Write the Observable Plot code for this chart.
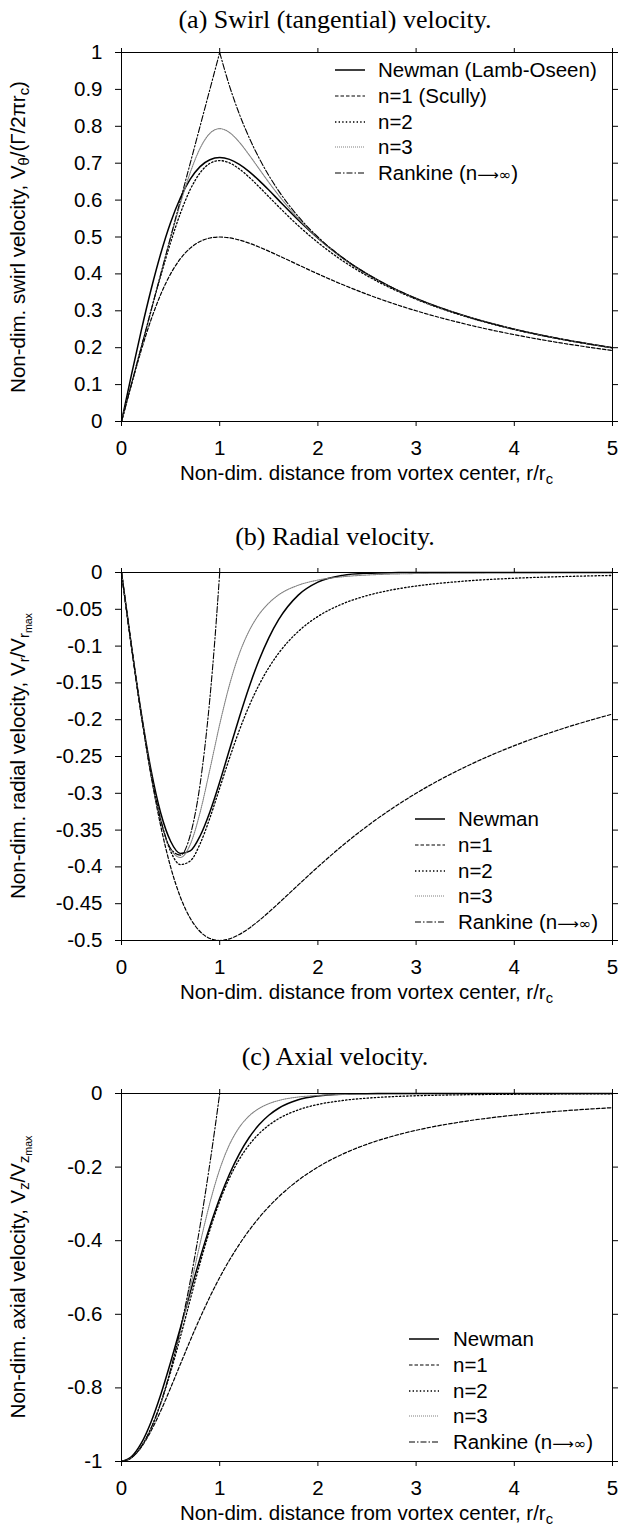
<!DOCTYPE html>
<html>
<head>
<meta charset="utf-8">
<script src="https://cdn.jsdelivr.net/npm/d3@7"></script>
<script src="https://cdn.jsdelivr.net/npm/@observablehq/plot@0.6"></script>
<style>
  html, body { margin: 0; padding: 0; background: #fff; }
  #root { position: relative; width: 618px; height: 1533px; overflow: hidden;
          font-family: "Liberation Sans", Arial, sans-serif; color: #000; }
  .ptitle { position: absolute; font-family: "Liberation Serif", "Times New Roman", serif;
            font-size: 26px; white-space: nowrap; transform: translate(-50%, -50%); }
  .xlab { position: absolute; font-size: 20.5px; white-space: nowrap; transform: translate(-50%, -50%); }
  .ylab { position: absolute; font-size: 20.5px; white-space: nowrap;
          transform: translate(-50%, -50%) rotate(-90deg); }
  sub { font-size: 72%; vertical-align: -0.28em; line-height: 0; }
  .panel { position: absolute; left: 0; }
  .leg { position: absolute; font-size: 20.5px; white-space: nowrap; }
  .sym { font-family: "DejaVu Sans", sans-serif; font-size: 15px; }
</style>
</head>
<body>
<div id="root"></div>
<script>
// ---------------- data ----------------
const r = [0,0.1,0.2,0.3,0.4,0.5,0.6,0.7,0.8,0.9,1,1.1,1.2,1.3,1.4,1.5,1.6,1.8,2,2.25,2.5,2.75,3,3.5,4,4.5,5];
const xTicks = [0,1,2,3,4,5];

// (a) swirl velocity
const swirlNewman = [0,0.1249,0.2451,0.3564,0.4553,0.5392,0.6064,0.6567,0.6907,0.7095,0.7153,0.7103,0.6968,0.6772,0.6534,0.6272,0.5999,0.5461,0.4967,0.4437,0.3998,0.3636,0.3333,0.2857,0.2500,0.2222,0.2000];
const swirlN1 = [0,0.0990,0.1923,0.2752,0.3448,0.4000,0.4412,0.4698,0.4878,0.4972,0.5000,0.4977,0.4918,0.4833,0.4730,0.4615,0.4494,0.4245,0.4000,0.3711,0.3448,0.3212,0.3000,0.2642,0.2353,0.2118,0.1923];
const swirlN2 = [0,0.1000,0.1998,0.2988,0.3950,0.4851,0.5645,0.6286,0.6738,0.6994,0.7071,0.7007,0.6845,0.6620,0.6363,0.6092,0.5822,0.5308,0.4851,0.4360,0.3950,0.3605,0.3313,0.2848,0.2495,0.2220,0.1998];
const swirlN3 = [0,0.1000,0.2000,0.2999,0.3995,0.4974,0.5910,0.6745,0.7403,0.7808,0.7937,0.7831,0.7568,0.7224,0.6852,0.6482,0.6131,0.5502,0.4974,0.4433,0.3995,0.3633,0.3329,0.2856,0.2500,0.2222,0.2000];
const rankineSwirlInR = [0,1];
const rankineSwirlIn = [0,1];
const rankineSwirlOutR = [1,1.1,1.2,1.3,1.4,1.5,1.6,1.8,2,2.25,2.5,2.75,3,3.5,4,4.5,5];
const rankineSwirlOut = [1,0.9091,0.8333,0.7692,0.7143,0.6667,0.6250,0.5556,0.5000,0.4444,0.4000,0.3636,0.3333,0.2857,0.2500,0.2222,0.2000];
const swirlTicks = [0,0.1,0.2,0.3,0.4,0.5,0.6,0.7,0.8,0.9,1];

// (b) radial velocity
const radialNewman = [0,-0.0988,-0.1902,-0.2679,-0.3272,-0.3652,-0.3817,-0.3782,-0.3580,-0.3253,-0.2847,-0.2405,-0.1966,-0.1555,-0.1193,-0.0888,-0.0641,-0.0307,-0.0131,-0.0039,-0.0010,-0.0002,0,0,0,0,0];
const radialN1 = [0,-0.0990,-0.1923,-0.2752,-0.3448,-0.4000,-0.4412,-0.4698,-0.4878,-0.4972,-0.5000,-0.4977,-0.4918,-0.4833,-0.4730,-0.4615,-0.4494,-0.4245,-0.4000,-0.3711,-0.3448,-0.3212,-0.3000,-0.2642,-0.2353,-0.2118,-0.1923];
const radialN2 = [0,-0.0990,-0.1920,-0.2731,-0.3368,-0.3787,-0.3968,-0.3920,-0.3688,-0.3335,-0.2929,-0.2521,-0.2144,-0.1812,-0.1529,-0.1293,-0.1097,-0.0801,-0.0597,-0.0427,-0.0314,-0.0237,-0.0184,-0.0116,-0.0078,-0.0055,-0.0040];
const radialN3 = [0,-0.0990,-0.1920,-0.2730,-0.3361,-0.3756,-0.3872,-0.3695,-0.3262,-0.2676,-0.2063,-0.1525,-0.1102,-0.0792,-0.0570,-0.0416,-0.0304,-0.0173,-0.0103,-0.0058,-0.0034,-0.0021,-0.0014,-0.0006,-0.0003,0,0];
const rankineCoreR = [0,0.1,0.2,0.3,0.4,0.5,0.6,0.7,0.8,0.9,0.95,1];
const radialRankine = [0,-0.099,-0.192,-0.273,-0.336,-0.375,-0.384,-0.357,-0.288,-0.171,-0.0926,0];
const rankineOuterR = [1,5];
const radialRankineOuter = [0,0];
const radialTicks = [-0.5,-0.45,-0.4,-0.35,-0.3,-0.25,-0.2,-0.15,-0.1,-0.05,0];

// (c) axial velocity
const axialNewman = [-1,-0.9875,-0.9510,-0.8931,-0.8179,-0.7304,-0.6362,-0.5403,-0.4475,-0.3614,-0.2847,-0.2187,-0.1638,-0.1196,-0.0852,-0.0592,-0.0401,-0.0171,-0.0066,-0.0017,-0.0004,-0.0001,0,0,0,0,0];
const axialN1 = [-1,-0.9901,-0.9615,-0.9174,-0.8621,-0.8000,-0.7353,-0.6711,-0.6098,-0.5525,-0.5000,-0.4525,-0.4098,-0.3717,-0.3378,-0.3077,-0.2809,-0.2358,-0.2000,-0.1649,-0.1379,-0.1168,-0.1000,-0.0755,-0.0588,-0.0471,-0.0385];
const axialN2 = [-1,-0.9900,-0.9600,-0.9104,-0.8420,-0.7575,-0.6613,-0.5600,-0.4609,-0.3706,-0.2929,-0.2292,-0.1786,-0.1394,-0.1092,-0.0862,-0.0685,-0.0445,-0.0299,-0.0190,-0.0126,-0.0086,-0.0061,-0.0033,-0.0020,-0.0012,-0.0008];
const axialN3 = [-1,-0.9900,-0.9600,-0.9100,-0.8402,-0.7513,-0.6454,-0.5278,-0.4078,-0.2973,-0.2063,-0.1386,-0.0918,-0.0609,-0.0407,-0.0277,-0.0190,-0.0096,-0.0052,-0.0026,-0.0014,-0.0008,-0.0005,-0.0002,-0.0001,0,0];
const axialRankine = [-1,-0.99,-0.96,-0.91,-0.84,-0.75,-0.64,-0.51,-0.36,-0.19,-0.0975,0];
const axialRankineOuter = [0,0];
const axialTicks = [-1,-0.8,-0.6,-0.4,-0.2,0];

// legend labels
const legendA = ["Newman (Lamb-Oseen)", "n=1 (Scully)", "n=2", "n=3", "Rankine (n⟶∞)"];
const legendBC = ["Newman", "n=1", "n=2", "n=3", "Rankine (n⟶∞)"];

// ---------------- styles ----------------
const STY = [
  {stroke: "#000", strokeWidth: 1.5},
  {stroke: "#000", strokeWidth: 1.2, strokeDasharray: "3.5,2"},
  {stroke: "#000", strokeWidth: 1.3, strokeDasharray: "1.4,2.2"},
  {stroke: "#808080", strokeWidth: 1.1, strokeDasharray: "1,1"},
  {stroke: "#000", strokeWidth: 1.1, strokeDasharray: "6,2,1.5,2"}
];

const root = document.getElementById("root");
const W = 618, ML = 121, MR = 6, MT = 10, MB = 70;

function pts(xs, ys) { return xs.map((x, i) => ({x, y: ys[i]})); }

function makePanel(cfg) {
  const {top, ph, yDomain, yTicks, curves, title, titleY, ylab, legend, leg} = cfg;
  const marks = [];
  for (const c of curves) {
    marks.push(Plot.line(pts(c.x, c.y), {x: "x", y: "y", curve: c.curve || "monotone-x", ...STY[c.s]}));
  }
  marks.push(Plot.frame({stroke: "#000", strokeWidth: 1}));
  marks.push(Plot.axisX({anchor: "bottom", ticks: xTicks, tickSize: 5, tickPadding: 14, tickFormat: d => String(d), label: null, fontSize: 20.5}));
  marks.push(Plot.axisX({anchor: "top", ticks: xTicks, tickSize: 5, tickFormat: () => "", label: null}));
  marks.push(Plot.axisY({anchor: "left", ticks: yTicks, tickSize: 6, tickPadding: 13, tickFormat: d => String(d), label: null, fontSize: 20.5}));
  marks.push(Plot.axisY({anchor: "right", ticks: yTicks, tickSize: 6, tickFormat: () => "", label: null}));

  const chart = Plot.plot({
    width: W, height: MT + ph + MB,
    marginLeft: ML, marginRight: MR, marginTop: MT, marginBottom: MB,
    x: {domain: [0, 5]},
    y: {domain: yDomain},
    style: {fontFamily: "'Liberation Sans', Arial, sans-serif", fontSize: "20.5px", color: "#000", background: "transparent", overflow: "visible"},
    marks
  });
  const wrap = document.createElement("div");
  wrap.className = "panel";
  wrap.style.top = (top - MT) + "px";
  wrap.appendChild(chart);
  root.appendChild(wrap);

  const t = document.createElement("div");
  t.className = "ptitle";
  t.style.left = "335px"; t.style.top = titleY + "px";
  t.textContent = title;
  root.appendChild(t);

  const xl = document.createElement("div");
  xl.className = "xlab";
  xl.style.left = ((ML + W - MR) / 2) + "px";
  xl.style.top = (top + ph + 52) + "px";
  xl.innerHTML = "Non-dim. distance from vortex center, r/r<sub>c</sub>";
  root.appendChild(xl);

  const yl = document.createElement("div");
  yl.className = "ylab";
  yl.style.left = "18px";
  yl.style.top = (top + ph / 2) + "px";
  yl.innerHTML = ylab;
  root.appendChild(yl);

  legend.forEach((lab, i) => {
    const y = leg.y0 + i * leg.dy;
    const svg = d3.create("svg").attr("width", leg.x2 - leg.x1 + 2).attr("height", 6)
      .style("position", "absolute").style("left", (leg.x1 - 1) + "px").style("top", (y - 3) + "px");
    const s = STY[i];
    svg.append("line").attr("x1", 1).attr("x2", leg.x2 - leg.x1 + 1).attr("y1", 3).attr("y2", 3)
      .attr("stroke", s.stroke).attr("stroke-width", s.strokeWidth)
      .attr("stroke-dasharray", s.strokeDasharray || null);
    root.appendChild(svg.node());
    const d = document.createElement("div");
    d.className = "leg";
    d.style.left = leg.tx + "px";
    d.style.top = (y - 12) + "px";
    d.style.lineHeight = "24px";
    d.innerHTML = lab.replace("⟶∞", '<span class="sym">⟶∞</span>');
    root.appendChild(d);
  });
}

makePanel({
  top: 52, ph: 369, yDomain: [0, 1], yTicks: swirlTicks, titleY: 20,
  title: "(a) Swirl (tangential) velocity.",
  ylab: "Non-dim. swirl velocity, V<sub>θ</sub>/(Γ/2πr<sub>c</sub>)",
  curves: [
    {x: r, y: swirlNewman, s: 0},
    {x: r, y: swirlN1, s: 1},
    {x: r, y: swirlN2, s: 2},
    {x: r, y: swirlN3, s: 3},
    {x: rankineSwirlInR, y: rankineSwirlIn, s: 4, curve: "linear"},
    {x: rankineSwirlOutR, y: rankineSwirlOut, s: 4}
  ],
  legend: legendA, leg: {y0: 70, dy: 25.8, x1: 335, x2: 365, tx: 378}
});

makePanel({
  top: 572, ph: 368, yDomain: [-0.5, 0], yTicks: radialTicks, titleY: 537,
  title: "(b) Radial velocity.",
  ylab: "Non-dim. radial velocity, V<sub>r</sub>/V<sub>r<sub>max</sub></sub>",
  curves: [
    {x: r, y: radialNewman, s: 0},
    {x: r, y: radialN1, s: 1},
    {x: r, y: radialN2, s: 2},
    {x: r, y: radialN3, s: 3},
    {x: rankineCoreR, y: radialRankine, s: 4},
    {x: rankineOuterR, y: radialRankineOuter, s: 4, curve: "linear"}
  ],
  legend: legendBC, leg: {y0: 819, dy: 25.8, x1: 415, x2: 445, tx: 458}
});

makePanel({
  top: 1093, ph: 368, yDomain: [-1, 0], yTicks: axialTicks, titleY: 1057,
  title: "(c) Axial velocity.",
  ylab: "Non-dim. axial velocity, V<sub>z</sub>/V<sub>z<sub>max</sub></sub>",
  curves: [
    {x: r, y: axialNewman, s: 0},
    {x: r, y: axialN1, s: 1},
    {x: r, y: axialN2, s: 2},
    {x: r, y: axialN3, s: 3},
    {x: rankineCoreR, y: axialRankine, s: 4},
    {x: rankineOuterR, y: axialRankineOuter, s: 4, curve: "linear"}
  ],
  legend: legendBC, leg: {y0: 1339, dy: 25.8, x1: 409, x2: 439, tx: 453}
});
</script>
</body>
</html>
